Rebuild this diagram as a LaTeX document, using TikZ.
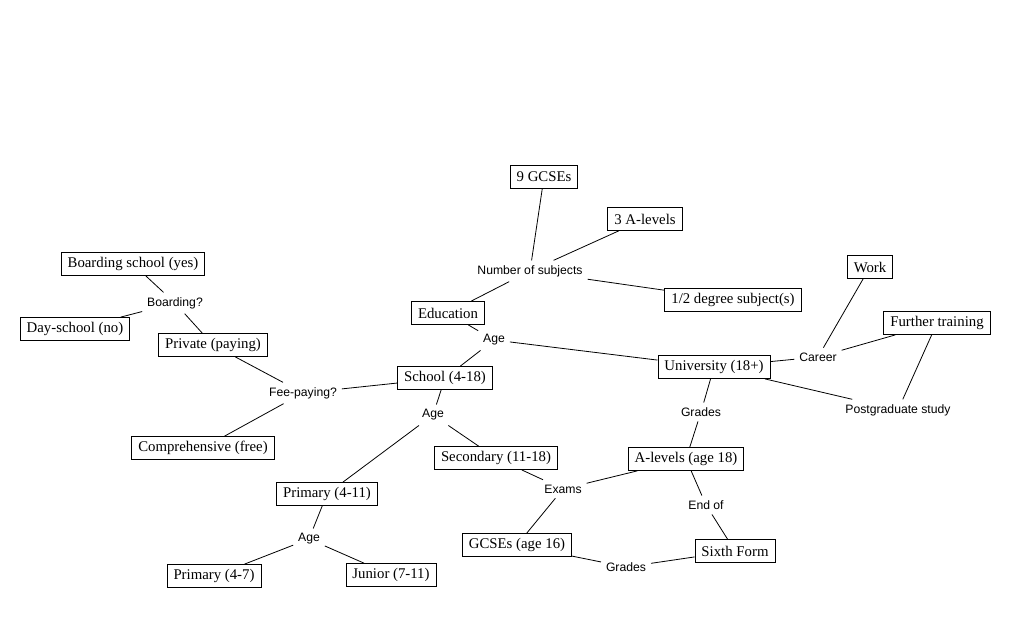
\documentclass[tikz,border=0pt]{standalone}
\usepackage{fontspec}
\setmainfont{Liberation Serif}
\setsansfont{Liberation Sans}
\usetikzlibrary{positioning}

\begin{document}
\begin{tikzpicture}[x=1pt, y=-1pt,
    box/.style={draw, line width=0.8pt, font=\fontsize{14.8}{16}\selectfont, inner xsep=6.5pt, minimum height=23pt},
    lbl/.style={font=\sffamily\fontsize{12.2}{14}\selectfont, inner sep=2pt, outer sep=3pt},
    link/.style={line width=0.8pt}]
    % Canvas
    \path[fill=white, use as bounding box] (0,0) rectangle (1033,628);
    % 1. Centre and subjects
    \node[box] (edu) at (448,313) {Education};
    \node[lbl] (nsub) at (530,271) {Number of subjects};
    \node[box] (gcse9) at (544,177) {9 GCSEs};
    \node[box] (alev3) at (645,219) {3 A-levels};
    \node[box] (degsub) at (733,300) {1/2 degree subject(s)};
    \node[lbl] (age1) at (494,340) {Age};
    % 2. University branch
    \node[box] (uni) at (714,367) {University (18+)};
    \node[lbl] (career) at (818,357) {Career};
    \node[box] (work) at (870,267) {Work};
    \node[box] (furth) at (937,323) {Further training};
    \node[lbl] (postg) at (898,410) {Postgraduate study};
    \node[lbl] (grade1) at (701,412) {Grades};
    \node[box] (alev) at (686,459) {A-levels (age 18)};
    \node[lbl] (endof) at (706,505) {End of};
    \node[box] (sixth) at (735,551) {Sixth Form};
    \node[lbl] (grade2) at (626,567) {Grades};
    \node[box] (gcse) at (517,545) {GCSEs (age 16)};
    \node[lbl] (exams) at (563,489) {Exams};
    % 3. School branch
    \node[box] (school) at (445,378) {School (4-18)};
    \node[lbl] (age2) at (433,415) {Age};
    \node[box] (second) at (496,458) {Secondary (11-18)};
    \node[box] (prim) at (327,494) {Primary (4-11)};
    \node[lbl] (age3) at (309,539) {Age};
    \node[box] (prim47) at (214,576) {Primary (4-7)};
    \node[box] (junior) at (391,575) {Junior (7-11)};
    % 4. Fee-paying branch
    \node[lbl] (fee) at (303,393) {Fee-paying?};
    \node[box] (priv) at (213,345) {Private (paying)};
    \node[box] (compr) at (203,448) {Comprehensive (free)};
    \node[lbl] (board) at (175,303) {Boarding?};
    \node[box] (byes) at (133,264) {Boarding school (yes)};
    \node[box] (bno) at (75,329) {Day-school (no)};
    % 5. Connectors
    \foreach \a/\b in {edu/nsub, nsub/gcse9, nsub/alev3, nsub/degsub,
        edu/age1, age1/school, age1/uni, uni/career, career/work, career/furth,
        uni/postg, postg/furth, uni/grade1, grade1/alev, alev/exams, alev/endof,
        endof/sixth, sixth/grade2, grade2/gcse, gcse/exams, exams/second,
        second/age2, age2/school, age2/prim, prim/age3, age3/prim47, age3/junior,
        school/fee, fee/priv, fee/compr, priv/board, board/byes, board/bno} {
        \draw[link] (\a) -- (\b);
    }
\end{tikzpicture}
\end{document}
